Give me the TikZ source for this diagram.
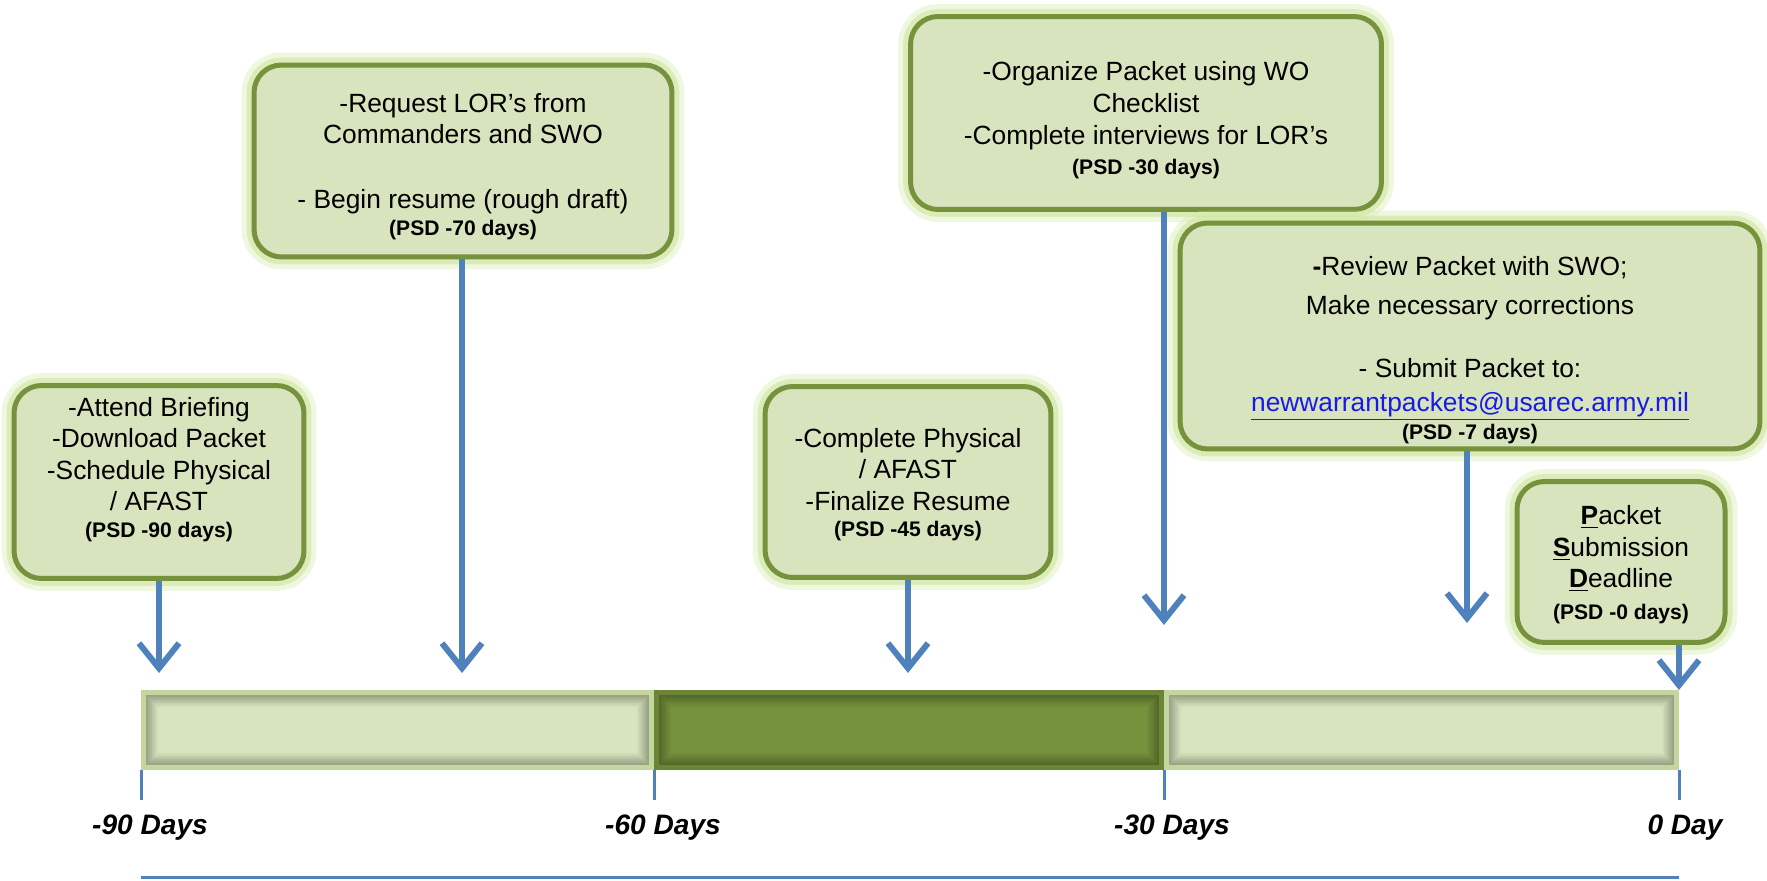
\documentclass[tikz,border=0pt]{standalone}
\usepackage{fontspec}
\setmainfont{Liberation Sans}
\usetikzlibrary{arrows.meta}

\definecolor{boxfill}{HTML}{D7E4BD}
\definecolor{boxline}{HTML}{76923C}
\definecolor{boxglow}{HTML}{CDE59C}
\definecolor{barrim}{HTML}{C3D69B}
\definecolor{barrimdark}{HTML}{6A8535}
\definecolor{bardark}{HTML}{76923C}
\definecolor{arrowblue}{HTML}{4F81BD}
\definecolor{linkblue}{HTML}{1A1AE6}

\newcommand{\psd}[1]{{\fontsize{12}{15}\selectfont\bfseries (PSD -#1 days)}}
\newcommand{\padabove}[1]{\rule{0pt}{#1}}
\newcommand{\padbelow}[1]{\rule[-#1]{0pt}{#1}}

\tikzset{
  stepnote/.style={draw=boxline, line width=0.1cm, fill=boxfill, rounded corners=0.55cm,
    align=center, inner sep=0pt, font=\fontsize{15}{18}\selectfont,
    preaction={draw=boxglow, line width=0.5cm, opacity=0.3},
    preaction={draw=boxglow, line width=0.3cm, opacity=0.6}},
  pointer/.style={arrowblue, line width=0.12cm, -{Straight Barb[length=0.5cm, width=0.8cm]}},
  daytick/.style={arrowblue, line width=0.06cm},
  daylabel/.style={font=\fontsize{16}{18}\selectfont\bfseries\itshape}
}

\begin{document}
\begin{tikzpicture}[x=0.02cm, y=-0.02cm]

\useasboundingbox (0,0) rectangle (1767,881);

% timeline bar
\foreach \xa/\xb/\fc/\rc in {141/654/boxfill/barrim, 654/1164/bardark/barrimdark, 1164/1679/boxfill/barrim} {
  \fill[\rc] (\xa,690) rectangle (\xb,770);
  \fill[\fc] (\xa+5,695) rectangle (\xb-5,765);
  \foreach \i [evaluate=\i as \op using 0.28-0.05*\i] in {0,...,5}
    \draw[black, opacity=\op, line width=0.04cm]
      (\xa+6+2*\i,696+2*\i) rectangle (\xb-6-2*\i,764-2*\i);
}

% day marks
\coordinate (d90) at (141,770);
\coordinate (d60) at (654,770);
\coordinate (d30) at (1164,770);
\coordinate (d0) at (1679,770);
\foreach \d in {d90,d60,d30,d0}
  \draw[daytick] (\d) -- ++(0,30);
\node[daylabel] (l90) at (150,828) {-90 Days};
\node[daylabel] (l60) at (663,828) {-60 Days};
\node[daylabel] (l30) at (1172,828) {-30 Days};
\node[daylabel] (l0) at (1685,828) {0 Day};
\draw[daytick] (141,877) -- (1679,877);

% step boxes
\node[stepnote, minimum width=5.8cm, minimum height=3.86cm] (b90) at (159,482)
  {-Attend Briefing\\-Download Packet\\-Schedule Physical\\/ AFAST\\[-3pt]\psd{90}\padbelow{17pt}};
\node[stepnote, minimum width=8.36cm, minimum height=3.84cm] (b70) at (463,161)
  {\padabove{17pt}-Request LOR’s from\\Commanders and SWO\\[19pt]- Begin resume (rough draft)\\[-3pt]\psd{70}};
\node[stepnote, minimum width=5.72cm, minimum height=3.82cm] (b45) at (908,482)
  {\padabove{14pt}-Complete Physical\\/ AFAST\\-Finalize Resume\\[-3pt]\psd{45}};
\node[stepnote, minimum width=9.42cm, minimum height=3.86cm] (b30) at (1146,113)
  {\padabove{19pt}-Organize Packet using WO\\Checklist\\-Complete interviews for LOR’s\\[-1pt]\psd{30}};
\node[stepnote, minimum width=11.6cm, minimum height=4.52cm] (b7) at (1470,336)
  {\padabove{27pt}\textbf{-}Review Packet with SWO;\\[4pt]Make necessary corrections\\[18pt]- Submit Packet to:\\[1pt]
   {\color{linkblue}\underline{newwarrantpackets@usarec.army.mil}}\\[-2pt]\psd{7}};
\node[stepnote, minimum width=4.16cm, minimum height=3.22cm] (b0) at (1621,562)
  {\padabove{14pt}\underline{\textbf{P}}acket\\\underline{\textbf{S}}ubmission\\\underline{\textbf{D}}eadline\\\psd{0}};

% pointers
\coordinate (a90) at (159,673);
\coordinate (a70) at (462,673);
\coordinate (a45) at (908,673);
\coordinate (a30) at (1164,625);
\coordinate (a7) at (1467,623);
\coordinate (a0) at (1679,690);
\draw[pointer] (b90.south -| a90) -- (a90);
\draw[pointer] (b70.south -| a70) -- (a70);
\draw[pointer] (b45.south -| a45) -- (a45);
\draw[pointer] (b30.south -| a30) -- (a30);
\draw[pointer] (b7.south -| a7) -- (a7);
\draw[pointer] (b0.south -| a0) -- (a0);

\end{tikzpicture}
\end{document}
